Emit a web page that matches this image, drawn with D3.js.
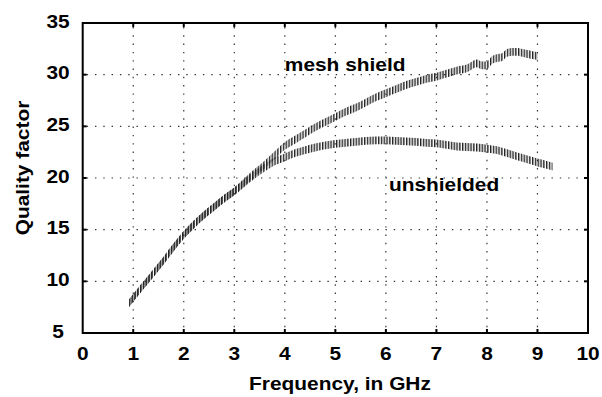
<!DOCTYPE html>
<html>
<head>
<meta charset="utf-8">
<script src="https://cdn.jsdelivr.net/npm/d3@7"></script>
<style>
  body { margin: 0; background: #fff; }
  text { font-family: "Liberation Sans", Arial, Helvetica, sans-serif; font-weight: bold; fill: #000; }
</style>
</head>
<body>
<svg id="chart" width="602" height="397"></svg>
<script>
const xTicks = [0, 1, 2, 3, 4, 5, 6, 7, 8, 9, 10];
const yTicks = [5, 10, 15, 20, 25, 30, 35];

// mesh shield (upper curve)
const meshFreq = [0.92, 1.0, 1.2, 1.4, 1.6, 1.8, 2.0, 2.2, 2.4, 2.6, 2.8, 3.0, 3.2, 3.4, 3.6, 3.8, 4.0,
  4.2, 4.4, 4.6, 4.8, 5.0, 5.2, 5.4, 5.6, 5.8, 6.0, 6.2, 6.4, 6.6, 6.8, 7.0, 7.2, 7.4, 7.6, 7.8, 7.9,
  8.0, 8.1, 8.2, 8.3, 8.4, 8.5, 8.6, 8.7, 8.8, 8.9, 9.0];
const meshQ = [7.9, 8.4, 9.6, 10.8, 12.0, 13.3, 14.5, 15.5, 16.4, 17.2, 18.0, 18.7, 19.6, 20.5, 21.3, 22.2, 23.1,
  23.7, 24.3, 24.9, 25.4, 25.9, 26.4, 26.8, 27.3, 27.8, 28.2, 28.6, 29.0, 29.3, 29.6, 29.8, 30.1, 30.4, 30.6, 31.1, 30.9,
  30.9, 31.4, 31.6, 31.7, 32.1, 32.2, 32.2, 32.1, 32.0, 31.9, 31.8];

// unshielded (lower curve)
const unshFreq = [0.92, 1.0, 1.2, 1.4, 1.6, 1.8, 2.0, 2.2, 2.4, 2.6, 2.8, 3.0, 3.2, 3.4, 3.6, 3.8, 4.0,
  4.2, 4.4, 4.6, 4.8, 5.0, 5.2, 5.4, 5.6, 5.8, 6.0, 6.2, 6.4, 6.6, 6.8, 7.0, 7.2, 7.4, 7.6, 7.8,
  8.0, 8.2, 8.4, 8.6, 8.8, 9.0, 9.2, 9.3];
const unshQ = [7.9, 8.4, 9.6, 10.8, 12.0, 13.3, 14.5, 15.5, 16.4, 17.2, 18.0, 18.7, 19.5, 20.3, 21.0, 21.6, 22.0,
  22.4, 22.7, 22.95, 23.15, 23.3, 23.4, 23.5, 23.6, 23.65, 23.65, 23.6, 23.55, 23.5, 23.4, 23.35, 23.2, 23.05, 23.0, 22.95,
  22.85, 22.7, 22.4, 22.1, 21.8, 21.5, 21.25, 21.1];

const seriesLabels = [
  { text: 'mesh shield', f: 4.0, q: 30.35 },
  { text: 'unshielded', f: 6.06, q: 18.75 },
];

const svg = d3.select('#chart');
const x = d3.scaleLinear().domain([0, 10]).range([82.7, 588]);
const y = d3.scaleLinear().domain([5, 35]).range([333, 23]);

const STRETCH = 1.13;
const FONT = 18.5;

function label(px, py, str, anchor) {
  return svg.append('text')
    .attr('transform', `translate(${px},${py}) scale(${STRETCH},1)`)
    .attr('text-anchor', anchor)
    .attr('font-size', FONT)
    .text(str);
}

// vertical hatching used for the measured bands
const defs = svg.append('defs');
const hatch = defs.append('pattern')
  .attr('id', 'hatch')
  .attr('patternUnits', 'userSpaceOnUse')
  .attr('width', 2.8)
  .attr('height', 10);
hatch.append('rect').attr('x', 0).attr('y', 0).attr('width', 1.4).attr('height', 10).attr('fill', '#222');

// dotted grid
const grid = svg.append('g').attr('stroke', '#333').attr('stroke-width', 1.2).attr('stroke-dasharray', '1.4 6.9');
grid.selectAll('.gx')
  .data(xTicks.slice(1, -1))
  .join('line')
  .attr('class', 'gx')
  .attr('x1', d => x(d)).attr('x2', d => x(d))
  .attr('y1', y(35) + 4).attr('y2', y(5));
grid.selectAll('.gy')
  .data(yTicks.slice(1, -1))
  .join('line')
  .attr('class', 'gy')
  .attr('y1', d => y(d)).attr('y2', d => y(d))
  .attr('x1', x(0) + 4).attr('x2', x(10));

// bands
const HALF = 3.9;
function band(freq, q) {
  const pts = freq.map((f, i) => [f, q[i]]);
  const area = d3.area()
    .curve(d3.curveMonotoneX)
    .x(d => x(d[0]))
    .y0(d => y(d[1]) - HALF)
    .y1(d => y(d[1]) + HALF);
  svg.append('path').attr('d', area(pts)).attr('fill', 'url(#hatch)');
}
band(unshFreq, unshQ);
band(meshFreq, meshQ);

// frame and inward ticks
svg.append('rect')
  .attr('x', x(0)).attr('y', y(35))
  .attr('width', x(10) - x(0)).attr('height', y(5) - y(35))
  .attr('fill', 'none').attr('stroke', '#000').attr('stroke-width', 2);

const ticks = svg.append('g').attr('stroke', '#000').attr('stroke-width', 2);
xTicks.slice(1, -1).forEach(t => {
  ticks.append('line').attr('x1', x(t)).attr('x2', x(t)).attr('y1', y(5)).attr('y2', y(5) - 4);
  ticks.append('line').attr('x1', x(t)).attr('x2', x(t)).attr('y1', y(35)).attr('y2', y(35) + 4);
});
yTicks.slice(1, -1).forEach(t => {
  ticks.append('line').attr('y1', y(t)).attr('y2', y(t)).attr('x1', x(0)).attr('x2', x(0) + 4);
  ticks.append('line').attr('y1', y(t)).attr('y2', y(t)).attr('x1', x(10)).attr('x2', x(10) - 4);
});

// tick labels
xTicks.forEach(t => label(x(t), 360, String(t), 'middle'));
yTicks.forEach(t => label(58, y(t) + 4.5, String(t), 'middle'));

// axis titles
label(340, 390, 'Frequency, in GHz', 'middle');
svg.append('text')
  .attr('transform', `translate(29,168) rotate(-90) scale(${STRETCH},1)`)
  .attr('text-anchor', 'middle')
  .attr('font-size', FONT)
  .text('Quality factor');

// curve labels
seriesLabels.forEach(s => label(x(s.f), y(s.q), s.text, 'start'));
</script>
</body>
</html>
